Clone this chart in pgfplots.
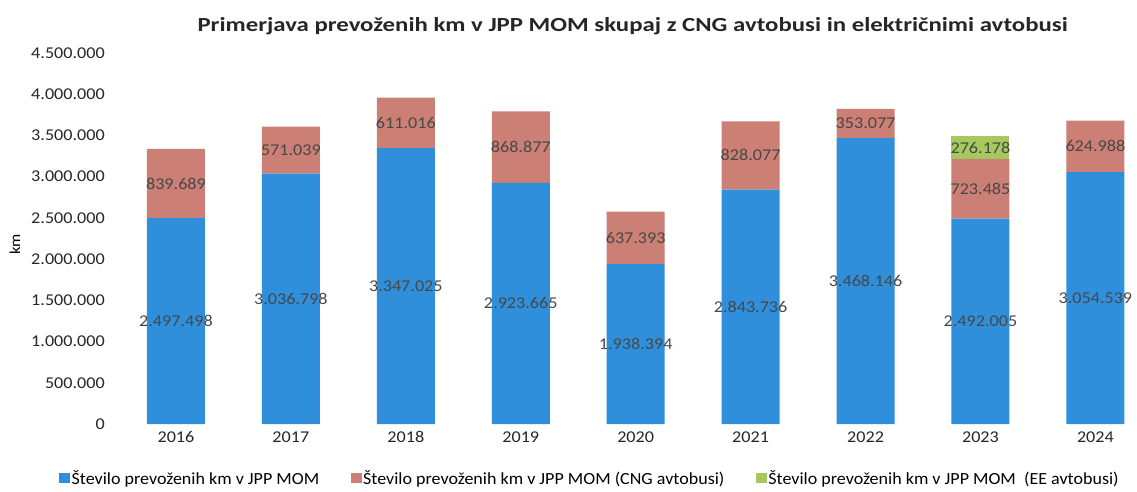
\documentclass[border=0pt]{standalone}
\usepackage{pgfplots}
\pgfplotsset{compat=1.18}
\usepackage{fontspec}
\setmainfont{Carlito}
\newfontfamily\titlefont[FakeStretch=1.24]{Carlito}
\newfontfamily\tickfont[FakeStretch=1.1]{Carlito}
\newfontfamily\legfont[FakeStretch=1.06]{Carlito}
\definecolor{cblue}{HTML}{2F8FDB}
\definecolor{cred}{HTML}{CC7F74}
\definecolor{cgreen}{HTML}{A6C85C}
\definecolor{clabel}{HTML}{484848}
\begin{document}
\begin{tikzpicture}
\pgfplotsset{
  common/.style={
    scale only axis, width=1011.5pt, height=371pt,
    xmin=-0.5, xmax=8.3, ymin=0, ymax=4500000,
  }
}
\begin{axis}[
  name=main,
  common,
  ybar stacked, bar width=58pt,
  xtick={0,...,8}, xticklabels={2016,2017,2018,2019,2020,2021,2022,2023,2024},
  ytick={0,500000,...,4500000},
  scaled y ticks=false,
  /pgf/number format/fixed,
  /pgf/number format/1000 sep={.},
  /pgf/number format/assume math mode=true,
  axis line style={draw=none}, major tick length=0pt,
  tick label style={font=\tickfont\fontsize{16.5}{19}\selectfont, color=black!85},
  yticklabel style={anchor=east, inner sep=0pt, xshift=-13.5pt},
  xticklabel style={anchor=center, inner sep=0pt, yshift=-13pt},
  ylabel={km}, ylabel style={font=\tickfont\fontsize{15}{18}\selectfont, at={(axis description cs:0,0.5)}, anchor=center, xshift=-6pt, yshift=103.5pt},
  title={Primerjava prevoženih km v JPP MOM skupaj z CNG avtobusi in električnimi avtobusi},
  title style={font=\titlefont\bfseries\fontsize{20}{24}\selectfont, color=black!85, at={(axis description cs:0.5,1)}, anchor=center, xshift=8.5pt, yshift=21pt},
  legend style={at={(axis description cs:0,0)}, anchor=west, xshift=-59.5pt, yshift=-54pt,
    draw=none, fill=none, inner sep=0pt, legend columns=3,
    /tikz/every even column/.append style={column sep=30pt},
    font=\legfont\fontsize{17}{20}\selectfont, legend cell align=left,
    nodes={inner sep=1.5pt}},
  legend image code/.code={\fill[#1] (0pt,-4.5pt) rectangle (11pt,5.5pt);},
]
\addplot[fill=cblue, draw=none] coordinates {(0,2497498) (1,3036798) (2,3347025) (3,2923665) (4,1938394) (5,2843736) (6,3468146) (7,2492005) (8,3054539)};
\addlegendentry{Število prevoženih km v JPP MOM}
\addplot[fill=cred, draw=none] coordinates {(0,839689) (1,571039) (2,611016) (3,868877) (4,637393) (5,828077) (6,353077) (7,723485) (8,624988)};
\addlegendentry{Število prevoženih km v JPP MOM (CNG avtobusi)}
\addplot[fill=cgreen, draw=none] coordinates {(0,0) (1,0) (2,0) (3,0) (4,0) (5,0) (6,0) (7,276178) (8,0)};
\addlegendentry{Število prevoženih km v JPP MOM\ \ (EE avtobusi)}
\end{axis}
\begin{axis}[common, hide axis, clip=false]
\addplot[only marks, mark=none, nodes near coords, point meta=explicit symbolic,
  every node near coord/.style={anchor=center, font=\tickfont\fontsize{16.5}{19}\selectfont, color=clabel}]
coordinates {
(0,1248749)[2.497.498] (1,1518399)[3.036.798] (2,1673513)[3.347.025] (3,1461833)[2.923.665]
(4,969197)[1.938.394] (5,1421868)[2.843.736] (6,1734073)[3.468.146] (7,1246003)[2.492.005]
(8,1527270)[3.054.539]
(0,2917343)[839.689] (1,3322318)[571.039] (2,3652533)[611.016] (3,3358104)[868.877]
(4,2257091)[637.393] (5,3257775)[828.077] (6,3644685)[353.077] (7,2853748)[723.485]
(8,3367033)[624.988]
(7,3353579)[276.178]
};
\end{axis}
\pgfresetboundingbox
\path (main.south west) ++(-118.5pt,-67pt) rectangle ++(1137pt,491pt);
\end{tikzpicture}
\end{document}
